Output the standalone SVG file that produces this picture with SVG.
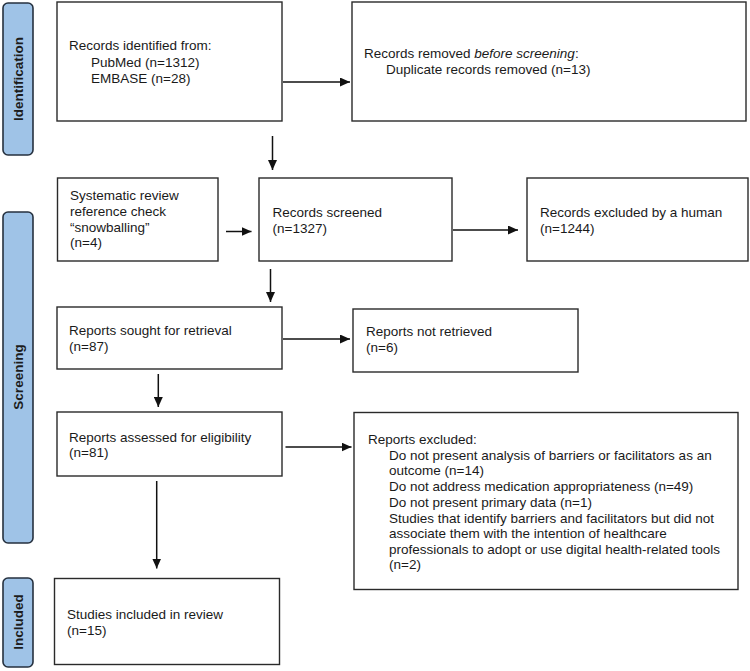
<svg xmlns="http://www.w3.org/2000/svg" width="750" height="671" viewBox="0 0 750 671">
<style>
.bg{fill:#ffffff}
.bar{fill:#9fc3e7;stroke:#26313f;stroke-width:1.6}
.bar-t{font-family:"Liberation Sans",Arial,sans-serif;font-size:13.5px;font-weight:bold;fill:#1c1c1c;text-anchor:middle;dominant-baseline:central}
.box{fill:#ffffff;stroke:#2a2a2a;stroke-width:1.4}
.t{font-family:"Liberation Sans",Arial,sans-serif;font-size:13.5px;fill:#1a1a1a}
.c{stroke:#111;stroke-width:1.5;fill:none;marker-end:url(#ah)}
</style>
<defs>
<marker id="ah" markerUnits="userSpaceOnUse" markerWidth="10" markerHeight="9" refX="10" refY="4.5" orient="auto">
<path d="M0,0 L10,4.5 L0,9 z" fill="#111"/>
</marker>
</defs>
<rect class="bg" x="0" y="0" width="750" height="671"/>

<g id="phase-identification">
<rect class="bar" x="3" y="3" width="30" height="152" rx="5"/>
<text class="bar-t" transform="translate(18,79) rotate(-90)">Identification</text>
</g>
<g id="phase-screening">
<rect class="bar" x="3" y="212" width="30" height="331" rx="5"/>
<text class="bar-t" transform="translate(18,377) rotate(-90)">Screening</text>
</g>
<g id="phase-included">
<rect class="bar" x="3" y="578" width="30" height="89" rx="5"/>
<text class="bar-t" transform="translate(18,622) rotate(-90)">Included</text>
</g>

<g id="identified">
<rect class="box" x="57" y="2" width="225" height="119"/>
<text class="t" x="69" y="50">Records identified from:</text>
<text class="t" x="91" y="66.5">PubMed (n=1312)</text>
<text class="t" x="91" y="82.5">EMBASE (n=28)</text>
</g>
<g id="removed">
<rect class="box" x="352" y="2" width="394" height="119"/>
<text class="t" x="364" y="57.5">Records removed <tspan font-style="italic">before screening</tspan>:</text>
<text class="t" x="386" y="73.5">Duplicate records removed (n=13)</text>
</g>
<g id="snowballing">
<rect class="box" x="57.5" y="178" width="160.5" height="83"/>
<text class="t" x="70" y="200">Systematic review</text>
<text class="t" x="70" y="216">reference check</text>
<text class="t" x="70" y="231.5">“snowballing”</text>
<text class="t" x="70" y="247">(n=4)</text>
</g>
<g id="screened">
<rect class="box" x="259" y="178" width="193" height="83"/>
<text class="t" x="272.5" y="216.5">Records screened</text>
<text class="t" x="272.5" y="232.5">(n=1327)</text>
</g>
<g id="excluded-human">
<rect class="box" x="527" y="178" width="221" height="83"/>
<text class="t" x="540" y="216.5">Records excluded by a human</text>
<text class="t" x="540" y="232.5">(n=1244)</text>
</g>
<g id="sought">
<rect class="box" x="57" y="307" width="225" height="62"/>
<text class="t" x="69" y="335">Reports sought for retrieval</text>
<text class="t" x="69" y="350.5">(n=87)</text>
</g>
<g id="not-retrieved">
<rect class="box" x="353" y="309" width="225" height="63"/>
<text class="t" x="366" y="336">Reports not retrieved</text>
<text class="t" x="366" y="351.5">(n=6)</text>
</g>
<g id="assessed">
<rect class="box" x="57" y="412" width="225" height="64"/>
<text class="t" x="69" y="441.5">Reports assessed for eligibility</text>
<text class="t" x="69" y="457">(n=81)</text>
</g>
<g id="reports-excluded">
<rect class="box" x="354" y="412.5" width="384" height="177"/>
<text class="t" x="368" y="443.5">Reports excluded:</text>
<text class="t" x="389" y="459.5">Do not present analysis of barriers or facilitators as an</text>
<text class="t" x="389" y="475">outcome (n=14)</text>
<text class="t" x="389" y="491">Do not address medication appropriateness (n=49)</text>
<text class="t" x="389" y="506.5">Do not present primary data (n=1)</text>
<text class="t" x="389" y="522.5">Studies that identify barriers and facilitators but did not</text>
<text class="t" x="389" y="538">associate them with the intention of healthcare</text>
<text class="t" x="389" y="553.5">professionals to adopt or use digital health-related tools</text>
<text class="t" x="389" y="569">(n=2)</text>
</g>
<g id="included">
<rect class="box" x="54.5" y="578.5" width="225" height="86"/>
<text class="t" x="67" y="618.5">Studies included in review</text>
<text class="t" x="67" y="634.5">(n=15)</text>
</g>

<g id="connectors">
<line class="c" x1="283" y1="82" x2="350" y2="82"/>
<line class="c" x1="272.5" y1="136" x2="272.5" y2="170"/>
<line class="c" x1="226" y1="231.5" x2="251.5" y2="231.5"/>
<line class="c" x1="453" y1="230" x2="518" y2="230"/>
<line class="c" x1="270.5" y1="269" x2="270.5" y2="302"/>
<line class="c" x1="283" y1="339" x2="350" y2="339"/>
<line class="c" x1="158.3" y1="374" x2="158.3" y2="407"/>
<line class="c" x1="285.5" y1="447" x2="351.5" y2="447"/>
<line class="c" x1="156.7" y1="481" x2="156.7" y2="568.5"/>
</g>
</svg>
